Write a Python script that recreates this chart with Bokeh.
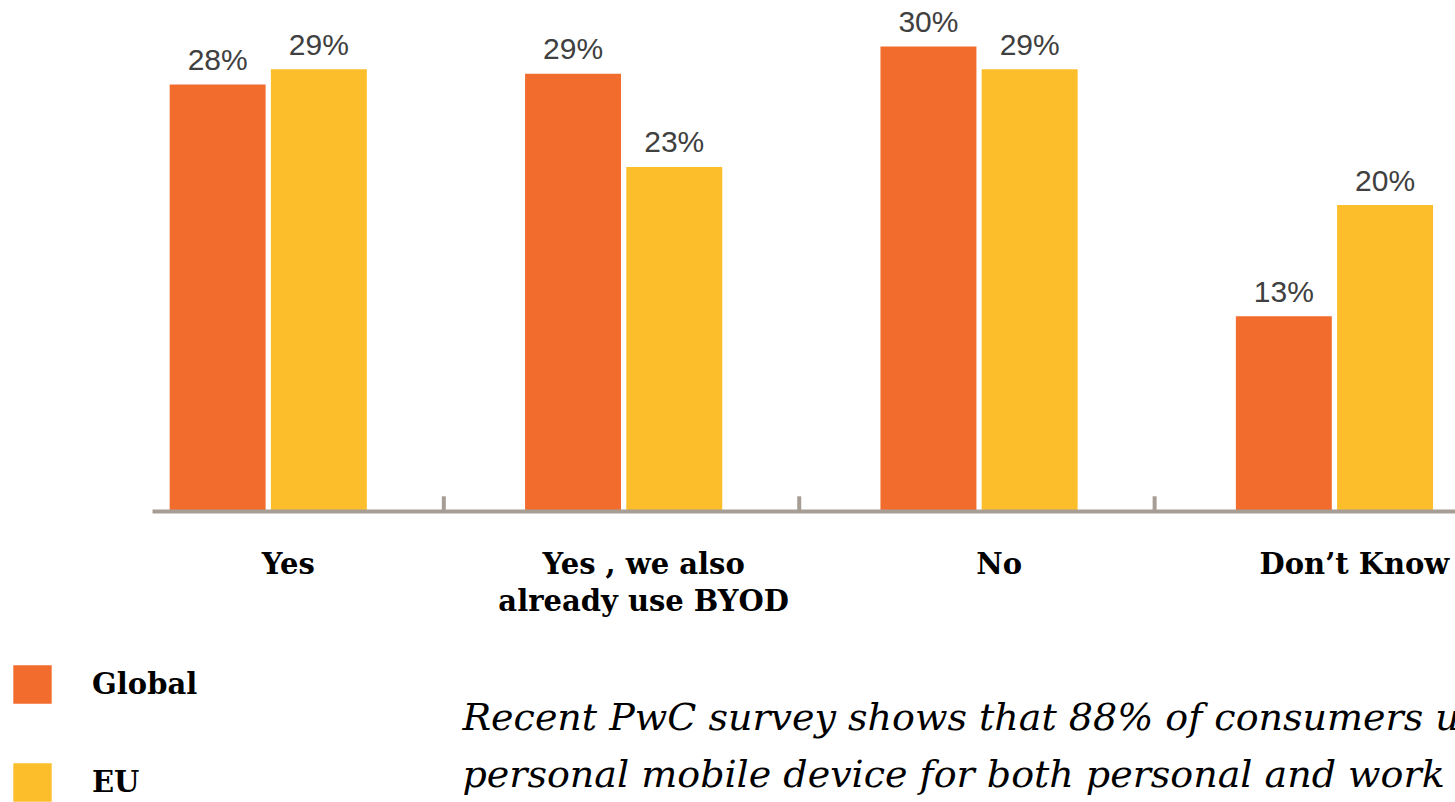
from bokeh.plotting import figure
from bokeh.models import Range1d, Legend, LegendItem, Label, ColumnDataSource
from bokeh.core.properties import value
from bokeh.embed import file_html
from bokeh.resources import INLINE

# ---- data ----
categories = ["Yes", "Yes , we also\nalready use BYOD", "No", "Don\u2019t Know"]
series = ["Global", "EU"]
global_vals = [28.0, 28.7, 30.5, 12.8]
eu_vals = [29.0, 22.6, 29.0, 20.1]
global_labels = ["28%", "29%", "30%", "13%"]
eu_labels = ["29%", "23%", "29%", "20%"]
colors = ["#F26D2D", "#FDBE2B"]
footer_lines = [
    "Recent PwC survey shows that 88% of consumers use a",
    "personal mobile device for both personal and work purposes",
]

# ---- layout constants ----
W, H = 1455, 802
DODGE = 0.1424
BAR_W = 0.27
X0, X1 = -0.7534, 3.3406
Y0, Y1 = -19.08, 33.51

idx = list(range(len(categories)))
src_g = ColumnDataSource(dict(x=[i - DODGE for i in idx], top=global_vals, lab=global_labels))
src_e = ColumnDataSource(dict(x=[i + DODGE for i in idx], top=eu_vals, lab=eu_labels))
src_c = ColumnDataSource(dict(x=idx, y=[0] * len(idx), cat=categories))

p = figure(width=W, height=H, output_backend="svg", toolbar_location=None,
           x_range=Range1d(X0, X1), y_range=Range1d(Y0, Y1),
           min_border=0, outline_line_color=None)
p.axis.visible = False
p.grid.visible = False
p.background_fill_color = "white"
p.border_fill_color = "white"

rg = p.vbar(x="x", top="top", bottom=0, width=BAR_W, source=src_g,
            fill_color=colors[0], line_color=None)
re = p.vbar(x="x", top="top", bottom=0, width=BAR_W, source=src_e,
            fill_color=colors[1], line_color=None)

# baseline axis and separators
axis_col = "#A69D95"
p.segment(x0=[-0.3257], y0=[0], x1=[X1], y1=[0], line_color=axis_col, line_width=4)
p.segment(x0=[i + 0.494 for i in idx[:-1]], y0=[0] * 3, x1=[i + 0.494 for i in idx[:-1]],
          y1=[1.0] * 3, line_color=axis_col, line_width=4)

# value labels
for src in (src_g, src_e):
    p.text(x="x", y="top", text="lab", source=src, text_align="center",
           text_baseline="middle", y_offset=-25,
           text_font=value("Liberation Sans"), text_font_size="30px",
           text_color="#404040")

# category labels
p.text(x="x", y="y", text="cat", source=src_c, text_align="center",
       text_baseline="top", x_offset=20, y_offset=35, text_line_height=1.1,
       text_font=value("DejaVu Serif"), text_font_style="bold",
       text_font_size="29px", text_color="#000000")

legend = Legend(items=[LegendItem(label=series[0], renderers=[rg]),
                       LegendItem(label=series[1], renderers=[re])],
                location=(8, -4), orientation="vertical",
                glyph_width=48, glyph_height=48, spacing=50, padding=0, margin=0,
                label_standoff=36, border_line_color=None,
                background_fill_alpha=0,
                label_text_font="DejaVu Serif", label_text_font_style="bold",
                label_text_font_size="29px", label_text_color="#000000")
p.add_layout(legend)

for k, line in enumerate(footer_lines):
    p.add_layout(Label(x=462, y=86 - 57 * k, x_units="screen", y_units="screen",
                       text=line, text_baseline="middle",
                       text_font="DejaVu Serif", text_font_style="italic",
                       text_font_size="38px", text_color="#000000"))

open("out.html", "w").write(file_html(p, INLINE))
